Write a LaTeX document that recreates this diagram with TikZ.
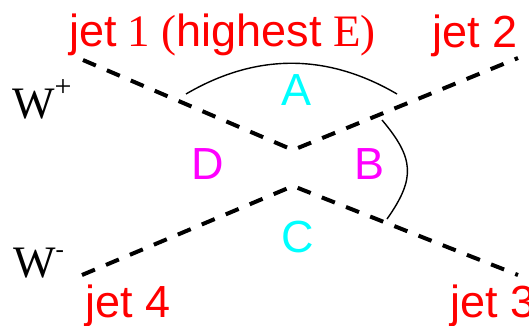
\documentclass[tikz,border=0pt]{standalone}
\usepackage{fontspec}
\setmainfont{Liberation Serif}
\setsansfont{Liberation Sans}
\usetikzlibrary{positioning,calc}
\definecolor{jRed}{RGB}{255,0,0}
\definecolor{jCyan}{RGB}{0,255,255}
\definecolor{jMag}{RGB}{255,0,255}
\tikzset{
  big/.style={font=\fontsize{45}{50}\selectfont, inner sep=0pt},
  jetlbl/.style={big, text=jRed, anchor=base west},
  wlbl/.style={big, text=black, anchor=base west},
  pairlbl/.style={big, font=\fontsize{45}{50}\selectfont\sffamily},
  axis/.style={pairlbl, text=jCyan},
  cross/.style={pairlbl, text=jMag},
  jetline/.style={line width=4pt, dash pattern=on 14pt off 12pt},
  angle/.style={line width=1.4pt},
}
\newcommand{\sfj}[1]{{\sffamily #1}}
\newcommand{\wsup}[3]{\raisebox{#2}{\fontsize{#3}{#3}\selectfont #1}}

\begin{document}
\begin{tikzpicture}[x=1pt, y=-1pt]
\useasboundingbox (0,0) rectangle (529,325);

%% ── the jets ──────────────────────────────────────────────────────────────
\coordinate (j1) at (83,60);
\coordinate (j2) at (518,58);
\coordinate (j3) at (518,275);
\coordinate (j4) at (82,275);
\coordinate (vup) at (293,150);
\coordinate (vdn) at (293,186);

\draw[jetline] (j1) -- (vup) -- (j2);
\draw[jetline] (j4) -- (vdn) -- (j3);

%% ── the angles ────────────────────────────────────────────────────────────
\coordinate (a1) at (186,94);
\coordinate (a2) at (397,94);
\coordinate (b1) at (382,120);
\coordinate (b2) at (387,219);
\draw[angle] (a1) .. controls (256,53) and (327,53) .. (a2);
\draw[angle] (b1) .. controls (414,158) and (416,178) .. (b2);

%% ── labels ────────────────────────────────────────────────────────────────
\node[jetlbl] (l1) at (69,46)
  {\sfj{jet} 1 (\sfj{highest} E)};
\node[jetlbl] (l2) at (432,47) {\sfj{jet 2}};
\node[jetlbl] (l3) at (450,317) {\sfj{jet 3}};
\node[jetlbl] (l4) at (85,317) {\sfj{jet 4}};
\node[wlbl] (wp) at (12,118) {W\wsup{+}{22pt}{30}};
\node[wlbl] (wm) at (13,277) {W\wsup{-}{20pt}{25}};

\node[axis] (A) at (297,90) {A};
\node[cross] (B) at (370,164) {B};
\node[axis] (C) at (298,237) {C};
\node[cross] (D) at (208,164) {D};

\end{tikzpicture}
\end{document}
